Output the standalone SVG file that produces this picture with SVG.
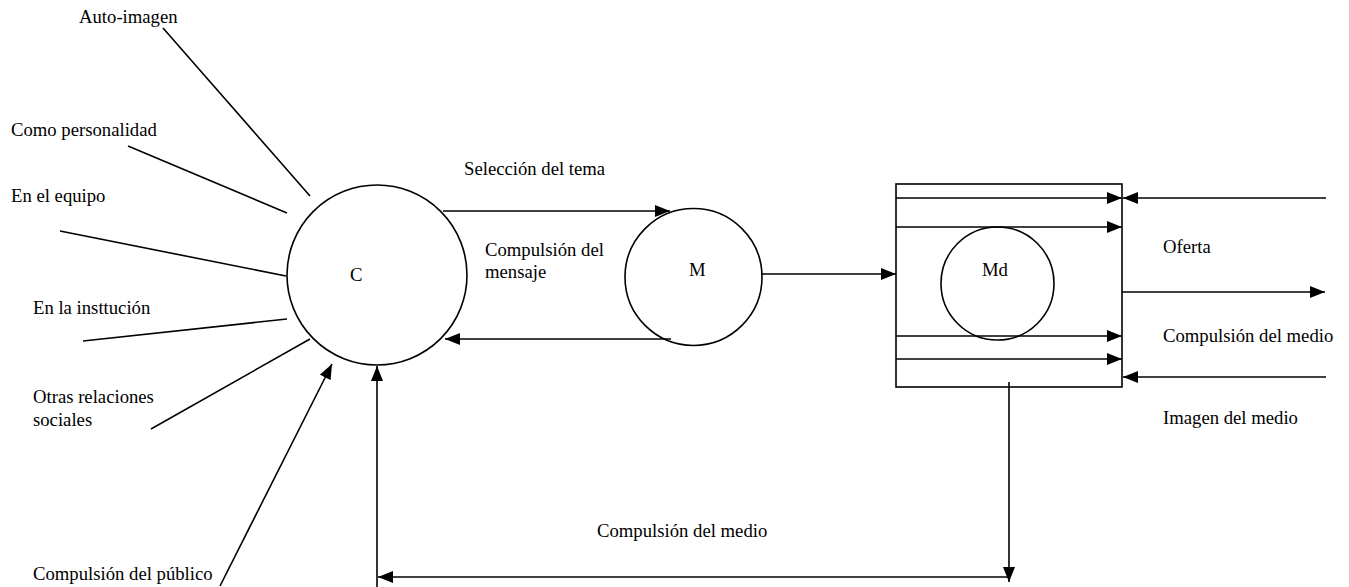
<svg xmlns="http://www.w3.org/2000/svg" width="1349" height="587" viewBox="0 0 1349 587">
<style>
text{font-family:"Liberation Serif","Times New Roman",serif;font-size:18.7px;fill:#000}
.s{fill:none;stroke:#000;stroke-width:1.6}
.n{fill:#fff;stroke:#000;stroke-width:1.6}
</style>
<defs>
<marker id="ah" markerUnits="userSpaceOnUse" markerWidth="16" markerHeight="12" refX="15" refY="6" orient="auto">
<path d="M0,0 L15,6 L0,12 z" fill="#000"/>
</marker>
</defs>
<rect width="1349" height="587" fill="#fff"/>
<g id="node-C">
<circle class="n" cx="377" cy="275" r="90"/>
<text x="350" y="281">C</text>
</g>
<g id="node-M">
<circle class="n" cx="693.5" cy="277" r="68.5"/>
<text x="689" y="276">M</text>
</g>
<g id="node-Md">
<rect class="n" x="896" y="184" width="226" height="203"/>
<circle class="n" cx="997.5" cy="283.5" r="56.5"/>
<text x="982" y="276">Md</text>
</g>
<g id="labels">
<text x="79" y="23">Auto-imagen</text>
<text x="11" y="136">Como personalidad</text>
<text x="11" y="202">En el equipo</text>
<text x="33" y="314">En la insttución</text>
<text x="33" y="403">Otras relaciones</text>
<text x="33" y="426">sociales</text>
<text x="33" y="580">Compulsión del público</text>
<text x="464" y="175">Selección del tema</text>
<text x="485" y="256">Compulsión del</text>
<text x="485" y="278">mensaje</text>
<text x="1163" y="253">Oferta</text>
<text x="1163" y="342">Compulsión del medio</text>
<text x="1163" y="424">Imagen del medio</text>
<text x="597" y="537">Compulsión del medio</text>
</g>
<g id="connectors" class="s">
<line x1="163" y1="28" x2="310" y2="196"/>
<line x1="128" y1="146" x2="287" y2="213"/>
<line x1="60" y1="231" x2="286" y2="276"/>
<line x1="83" y1="341" x2="287" y2="319"/>
<line x1="151" y1="429" x2="310" y2="339"/>
<line x1="220" y1="586" x2="332" y2="364" marker-end="url(#ah)"/>
<line x1="377" y1="587" x2="377" y2="366" marker-end="url(#ah)"/>
<line x1="1009" y1="577" x2="378" y2="577" marker-end="url(#ah)"/>
<line x1="1009" y1="382" x2="1009" y2="582" marker-end="url(#ah)"/>
<line x1="443" y1="211" x2="670" y2="211" marker-end="url(#ah)"/>
<line x1="671" y1="339" x2="445" y2="339" marker-end="url(#ah)"/>
<line x1="761" y1="274" x2="896" y2="274" marker-end="url(#ah)"/>
<line x1="896" y1="198" x2="1122" y2="198" marker-end="url(#ah)"/>
<line x1="896" y1="227" x2="1122" y2="227" marker-end="url(#ah)"/>
<line x1="896" y1="336" x2="1122" y2="336" marker-end="url(#ah)"/>
<line x1="896" y1="359" x2="1122" y2="359" marker-end="url(#ah)"/>
<line x1="1326" y1="198" x2="1123" y2="198" marker-end="url(#ah)"/>
<line x1="1326" y1="377" x2="1123" y2="377" marker-end="url(#ah)"/>
<line x1="1122" y1="292" x2="1325" y2="292" marker-end="url(#ah)"/>
</g>
</svg>
